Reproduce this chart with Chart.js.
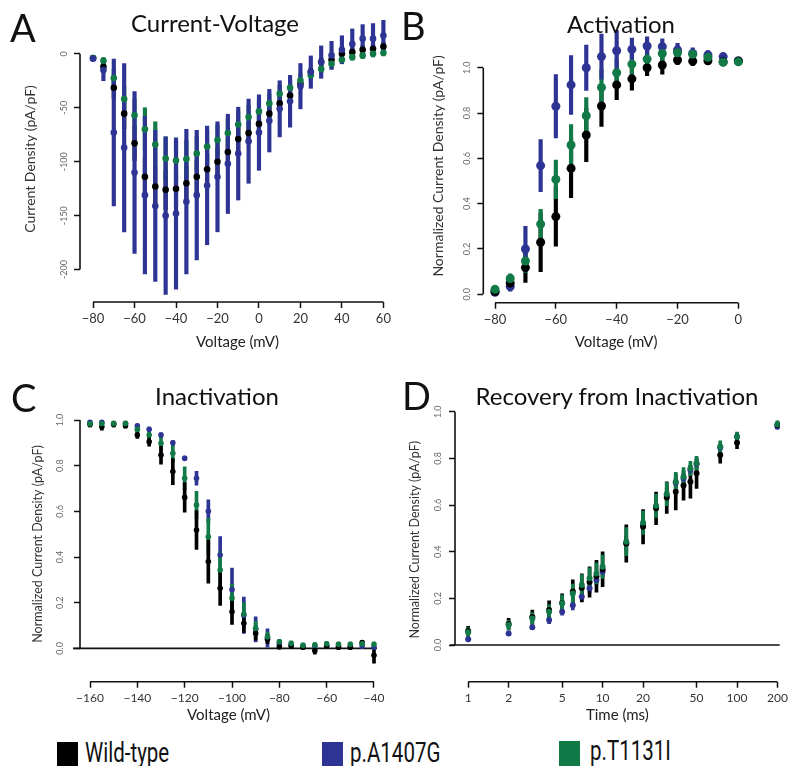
<!DOCTYPE html>
<html><head><meta charset="utf-8">
<script src="https://cdn.jsdelivr.net/npm/chart.js@4.4.1/dist/chart.umd.min.js"></script>
<style>
body{margin:0;background:#fff;width:791px;height:766px;overflow:hidden;position:relative;font-family:Lato,'Open Sans',sans-serif;}
canvas{position:absolute;}
.lbl{position:absolute;line-height:1;white-space:nowrap;color:#111;}
.letter{font-size:38px;}
.ttl{font-size:24px;transform:translateX(-50%);}
.sq{position:absolute;width:21px;height:26px;}
.legt{position:absolute;line-height:1;font-family:Roboto,'Open Sans',sans-serif;font-size:27px;color:#111;white-space:nowrap;transform:scaleX(0.76);transform-origin:0 0;}
</style></head><body>
<canvas id="cA" width="400" height="360" style="left:0;top:0"></canvas>
<canvas id="cB" width="401" height="360" style="left:390px;top:0"></canvas>
<canvas id="cC" width="400" height="360" style="left:0;top:370px"></canvas>
<canvas id="cD" width="401" height="360" style="left:390px;top:370px"></canvas>

<div class="lbl letter" style="left:10px;top:8px">A</div>
<div class="lbl letter" style="left:401px;top:6px">B</div>
<div class="lbl letter" style="left:11px;top:378px">C</div>
<div class="lbl letter" style="left:402px;top:376px">D</div>

<div class="lbl ttl" style="left:215px;top:11px">Current-Voltage</div>
<div class="lbl ttl" style="left:621px;top:12px">Activation</div>
<div class="lbl ttl" style="left:217px;top:384px">Inactivation</div>
<div class="lbl ttl" style="left:617px;top:384px">Recovery from Inactivation</div>

<div class="sq" style="left:57px;top:742px;background:#000"></div>
<div class="legt" style="left:85px;top:740px">Wild-type</div>
<div class="sq" style="left:322px;top:742px;background:#2D3494"></div>
<div class="legt" style="left:350px;top:740px">p.A1407G</div>
<div class="sq" style="left:559px;top:741px;background:#117A47"></div>
<div class="legt" style="left:590px;top:738px">p.T1131I</div>

<script>
// ---------- Panel A: Current-Voltage ----------
const aVoltage = [-80,-75,-70,-65,-60,-55,-50,-45,-40,-35,-30,-25,-20,-15,-10,-5,0,5,10,15,20,25,30,35,40,45,50,55,60];
const aWildType = [-4,-12,-31.5,-55.5,-83,-114,-123,-126,-125,-120,-114,-107,-100,-91,-79,-73.5,-65,-55.5,-46,-38.6,-27.8,-17,-7.7,-5.5,0,1.5,3.7,4.6,6.8];
const aWildTypeErr = [2,5,10,14,16,18,18,18,17,16,15,14,13,12,11,10,9,8,7,6,5,4,4,4,4,4,4,4,4];
const aA1407G = [-4.5,-15,-73,-87,-110,-131,-141,-150,-148,-137,-131,-122,-114,-102,-92.5,-81,-73,-62,-51,-44,-30,-17,-7.7,-1.5,3.7,9,14,14,17];
const aA1407GErr = [1.5,10,68,78,75,73,70,73,70,67,60,55,51,46,43,39,35,29,26,24,21,15,15,13,13,14,13,14,14];
const aT1131I = [-4,-6.5,-22.5,-42,-57,-70,-84,-97,-99,-97.5,-92.5,-86,-80,-73.5,-65.5,-58.6,-53.4,-46,-37,-31.5,-24.7,-20,-14,-9.3,-5.5,-3,-1.5,0,1];
const aT1131IErr = [1,3,8,12,15,20,21,20,18,17,16,15,14,13,12,11,10,9,8,7,6,5,4,4,3,3,3,3,3];
const aXTicks = [-80,-60,-40,-20,0,20,40,60];
const aYTicks = [0,-50,-100,-150,-200];

// ---------- Panel B: Activation ----------
const bVoltage = [-80,-75,-70,-65,-60,-55,-50,-45,-40,-35,-30,-25,-20,-15,-10,-5,0];
const bWildType = [0.012,0.05,0.118,0.23,0.343,0.556,0.703,0.831,0.924,0.951,1.0,1.012,1.034,1.029,1.031,1.026,1.03];
const bWildTypeErr = [0.01,0.02,0.065,0.13,0.13,0.13,0.118,0.09,0.065,0.05,0.035,0.04,0.02,0.02,0.015,0.01,0.01];
const bA1407G = [0.009,0.034,0.2,0.568,0.83,0.924,1.0,1.049,1.075,1.081,1.096,1.093,1.078,1.063,1.056,1.049,1.03];
const bA1407GErr = [0.005,0.02,0.1,0.115,0.14,0.13,0.1,0.1,0.09,0.05,0.04,0.035,0.03,0.025,0.02,0.01,0.01];
const bT1131I = [0.022,0.07,0.147,0.31,0.507,0.659,0.788,0.913,0.978,1.016,1.038,1.063,1.066,1.059,1.046,1.024,1.026];
const bT1131IErr = [0.01,0.02,0.05,0.065,0.085,0.09,0.08,0.08,0.06,0.05,0.04,0.035,0.03,0.02,0.015,0.01,0.01];
const bXTicks = [-80,-60,-40,-20,0];
const bYTicks = [0,0.2,0.4,0.6,0.8,1.0];

// ---------- Panel C: Inactivation ----------
const cVoltage = [-160,-155,-150,-145,-140,-135,-130,-125,-120,-115,-110,-105,-100,-95,-90,-85,-80,-75,-70,-65,-60,-55,-50,-45,-40];
const cWildType = [0.98,0.97,0.98,0.975,0.934,0.905,0.847,0.774,0.661,0.518,0.38,0.263,0.16,0.11,0.066,0.04,0.007,0.01,0.005,-0.01,0.01,0.005,0.005,0.025,-0.03];
const cWildTypeErr = [0.01,0.015,0.01,0.01,0.015,0.02,0.04,0.057,0.065,0.085,0.095,0.075,0.055,0.04,0.03,0.02,0.01,0.01,0.01,0.015,0.01,0.01,0.01,0.01,0.035];
const cA1407G = [0.99,0.99,0.985,0.985,0.974,0.959,0.934,0.9,0.832,0.745,0.6,0.409,0.257,0.145,0.083,0.045,0.02,0.015,0.01,0.01,0.01,0.01,0.01,0.01,0.005];
const cA1407GErr = [0.005,0.005,0.005,0.005,0.01,0.01,0.01,0.01,0.01,0.03,0.05,0.08,0.095,0.08,0.055,0.04,0.015,0.01,0.01,0.01,0.01,0.01,0.01,0.01,0.01];
const cT1131I = [0.983,0.985,0.985,0.985,0.959,0.934,0.898,0.854,0.745,0.628,0.489,0.343,0.22,0.15,0.088,0.051,0.029,0.022,0.013,0.015,0.02,0.018,0.018,0.02,0.018];
const cT1131IErr = [0.01,0.01,0.01,0.01,0.02,0.02,0.03,0.04,0.05,0.06,0.08,0.08,0.06,0.05,0.03,0.02,0.01,0.01,0.01,0.01,0.01,0.01,0.01,0.01,0.01];
const cXTicks = [-160,-140,-120,-100,-80,-60,-40];
const cYTicks = [0,0.2,0.4,0.6,0.8,1.0];

// ---------- Panel D: Recovery from Inactivation ----------
const dTime = [1,2,3,4,5,6,7,8,9,10,15,20,25,30,35,40,45,50,75,100,200];
const dWildType = [0.06,0.09,0.12,0.15,0.18,0.23,0.245,0.27,0.295,0.325,0.435,0.507,0.586,0.632,0.657,0.684,0.7,0.736,0.814,0.867,0.943];
const dWildTypeErr = [0.02,0.025,0.03,0.04,0.04,0.05,0.06,0.065,0.068,0.075,0.08,0.074,0.07,0.068,0.078,0.063,0.07,0.065,0.035,0.025,0.015];
const dA1407G = [0.025,0.05,0.076,0.107,0.143,0.171,0.207,0.243,0.279,0.314,0.436,0.514,0.593,0.643,0.696,0.714,0.75,0.776,0.847,0.893,0.936];
const dA1407GErr = [0.01,0.01,0.01,0.015,0.015,0.02,0.02,0.02,0.02,0.02,0.03,0.03,0.03,0.03,0.02,0.02,0.02,0.02,0.015,0.015,0.01];
const dT1131I = [0.055,0.086,0.114,0.143,0.179,0.221,0.257,0.286,0.307,0.336,0.443,0.524,0.597,0.647,0.7,0.721,0.757,0.779,0.85,0.893,0.946];
const dT1131IErr = [0.02,0.02,0.025,0.03,0.035,0.04,0.045,0.045,0.045,0.05,0.06,0.05,0.05,0.05,0.04,0.04,0.03,0.03,0.025,0.02,0.015];
const dXTicks = [1,2,5,10,20,50,100,200];
const dYTicks = [0,0.2,0.4,0.6,0.8,1.0];

const COL = { wt: '#000000', a: '#2D3494', t: '#117A47' };

Chart.defaults.font.family = "Lato, 'Open Sans', sans-serif";
Chart.defaults.animation = false;

// R-style axis lines (spanning first..last tick) and optional zero line
const rAxes = {
  id: 'rAxes',
  beforeDatasetsDraw(chart, args, opts) {
    const {ctx, chartArea} = chart;
    const xs = chart.scales.x, ys = chart.scales.y;
    const xt = xs.ticks, yt = ys.ticks;
    ctx.save();
    ctx.strokeStyle = '#111';
    ctx.lineWidth = 1.6;
    ctx.beginPath();
    ctx.moveTo(xs.getPixelForValue(xt[0].value), chartArea.bottom);
    ctx.lineTo(xs.getPixelForValue(xt[xt.length-1].value), chartArea.bottom);
    ctx.moveTo(chartArea.left, ys.getPixelForValue(yt[0].value));
    ctx.lineTo(chartArea.left, ys.getPixelForValue(yt[yt.length-1].value));
    if (opts && opts.zeroLine) {
      const y0 = ys.getPixelForValue(0);
      ctx.moveTo(chartArea.left - (opts.zeroExtend || 0), y0);
      ctx.lineTo(chartArea.right, y0);
    }
    ctx.stroke();
    ctx.restore();
  }
};

function errBars(xs, mean, err, color, order, thick) {
  return { type: 'bar', data: xs.map((x, i) => ({ x: x, y: [mean[i] - err[i], mean[i] + err[i]] })),
    backgroundColor: color, borderWidth: 0, barThickness: thick, grouped: false, order: order };
}
function dots(xs, mean, color, order, r) {
  return { type: 'scatter', data: xs.map((x, i) => ({ x: x, y: mean[i] })),
    pointRadius: r, pointHoverRadius: r, pointBackgroundColor: color, pointBorderWidth: 0,
    borderColor: color, showLine: false, order: order };
}
const minus = v => String(v).replace('-', '\u2212');

function makePanel(id, p) {
  new Chart(document.getElementById(id), {
    type: 'scatter',
    data: { datasets: p.datasets },
    plugins: [rAxes],
    options: {
      responsive: false, animation: false, events: [],
      layout: { padding: p.pad },
      plugins: { legend: { display: false }, tooltip: { enabled: false }, rAxes: p.rAxes || {} },
      scales: {
        x: {
          type: p.xType || 'linear', min: p.xMin, max: p.xMax, offset: false,
          afterBuildTicks: s => { s.ticks = p.xTicks.map(v => ({ value: v })); },
          afterFit: s => { s.height = p.xH; },
          border: { display: false },
          grid: { display: true, drawOnChartArea: false, drawTicks: true, tickLength: 6, tickColor: '#111', tickWidth: 1.5, offset: false },
          ticks: { font: { size: p.xTickSize }, color: '#333', padding: 3, maxRotation: 0, minRotation: 0, autoSkip: false, callback: v => minus(v) },
          title: { display: true, text: p.xTitle, font: { size: 15 }, color: '#222', padding: { top: 0, bottom: p.xTitlePad } }
        },
        y: {
          type: 'linear', min: p.yMin, max: p.yMax,
          afterBuildTicks: s => { s.ticks = p.yTicks.map(v => ({ value: v })); },
          afterFit: s => { s.width = p.yW; },
          border: { display: false },
          grid: { display: true, drawOnChartArea: false, drawTicks: true, tickLength: 6, tickColor: '#111', tickWidth: 1.5 },
          ticks: { font: { size: 9 }, color: '#666', padding: p.yTickPad, minRotation: 90, maxRotation: 90, crossAlign: 'center', autoSkip: false, callback: p.yFmt },
          title: { display: true, text: p.yTitle, font: { size: p.yTitleSize }, color: '#333', padding: { top: p.yTitlePad, bottom: 0 } }
        }
      }
    }
  });
}

const fmt1 = v => v.toFixed(1);

makePanel('cA', {
  pad: { left: 0, top: 16, right: 5, bottom: 0 }, yW: 80, xH: 58,
  xMin: -86.3, xMax: 65.6, yMin: -230, yMax: 35,
  xTicks: aXTicks, yTicks: aYTicks, xTickSize: 13, yTickPad: 0, yFmt: v => String(v),
  xTitle: 'Voltage (mV)', xTitlePad: 9, yTitle: 'Current Density (pA/pF)', yTitleSize: 14, yTitlePad: 21.6,
  datasets: [
    errBars(aVoltage, aWildType, aWildTypeErr, COL.wt, 6, 3.5),
    errBars(aVoltage, aT1131I, aT1131IErr, COL.t, 5, 3.5),
    errBars(aVoltage, aA1407G, aA1407GErr, COL.a, 4, 3.5),
    dots(aVoltage, aWildType, COL.wt, 3, 3.3),
    dots(aVoltage, aT1131I, COL.t, 2, 3.3),
    dots(aVoltage, aA1407G, COL.a, 1, 3.3)
  ]
});

makePanel('cB', {
  pad: { left: 0, top: 29.2, right: 42, bottom: 0 }, yW: 93.3, xH: 57.3,
  xMin: -83.85, xMax: 3.5, yMin: -0.037, yMax: 1.17,
  xTicks: bXTicks, yTicks: bYTicks, xTickSize: 13, yTickPad: 3.8, yFmt: fmt1,
  xTitle: 'Voltage (mV)', xTitlePad: 9, yTitle: 'Normalized Current Density (pA/pF)', yTitleSize: 14, yTitlePad: 39.6,
  datasets: [
    errBars(bVoltage, bWildType, bWildTypeErr, COL.wt, 6, 3.5),
    errBars(bVoltage, bT1131I, bT1131IErr, COL.t, 5, 3.5),
    errBars(bVoltage, bA1407G, bA1407GErr, COL.a, 4, 3.5),
    dots(bVoltage, bA1407G, COL.a, 3, 4.5),
    dots(bVoltage, bWildType, COL.wt, 2, 4.5),
    dots(bVoltage, bT1131I, COL.t, 1, 4.5)
  ]
});

makePanel('cC', {
  pad: { left: 0, top: 36.3, right: 23, bottom: 0 }, yW: 80, xH: 48.3,
  xMin: -164.23, xMax: -38.73, yMin: -0.146, yMax: 1.06,
  xTicks: cXTicks, yTicks: cYTicks, xTickSize: 12, yTickPad: 7.5, yFmt: fmt1,
  xTitle: 'Voltage (mV)', xTitlePad: 6, yTitle: 'Normalized Current Density (pA/pF)', yTitleSize: 12.5, yTitlePad: 30.5,
  rAxes: { zeroLine: true, zeroExtend: 7 },
  datasets: [
    errBars(cVoltage, cA1407G, cA1407GErr, COL.a, 6, 3),
    errBars(cVoltage, cT1131I, cT1131IErr, COL.t, 5, 3),
    errBars(cVoltage, cWildType, cWildTypeErr, COL.wt, 4, 3),
    dots(cVoltage, cA1407G, COL.a, 3, 2.8),
    dots(cVoltage, cWildType, COL.wt, 2, 2.8),
    dots(cVoltage, cT1131I, COL.t, 1, 2.8)
  ]
});

makePanel('cD', {
  pad: { left: 0, top: 27.7, right: 8, bottom: 0 }, yW: 65, xH: 48.3,
  xType: 'logarithmic', xMin: 0.798, xMax: 207.6, yMin: -0.157, yMax: 1.06,
  xTicks: dXTicks, yTicks: dYTicks, xTickSize: 12, yTickPad: 4.5, yFmt: fmt1,
  xTitle: 'Time (ms)', xTitlePad: 6, yTitle: 'Normalized Current Density (pA/pF)', yTitleSize: 12.5, yTitlePad: 17.5,
  rAxes: { zeroLine: true, zeroExtend: 5 },
  datasets: [
    errBars(dTime, dA1407G, dA1407GErr, COL.a, 6, 3),
    errBars(dTime, dWildType, dWildTypeErr, COL.wt, 5, 3),
    errBars(dTime, dT1131I, dT1131IErr, COL.t, 4, 3),
    dots(dTime, dA1407G, COL.a, 3, 3),
    dots(dTime, dWildType, COL.wt, 2, 3),
    dots(dTime, dT1131I, COL.t, 1, 3)
  ]
});
</script>
</body></html>
